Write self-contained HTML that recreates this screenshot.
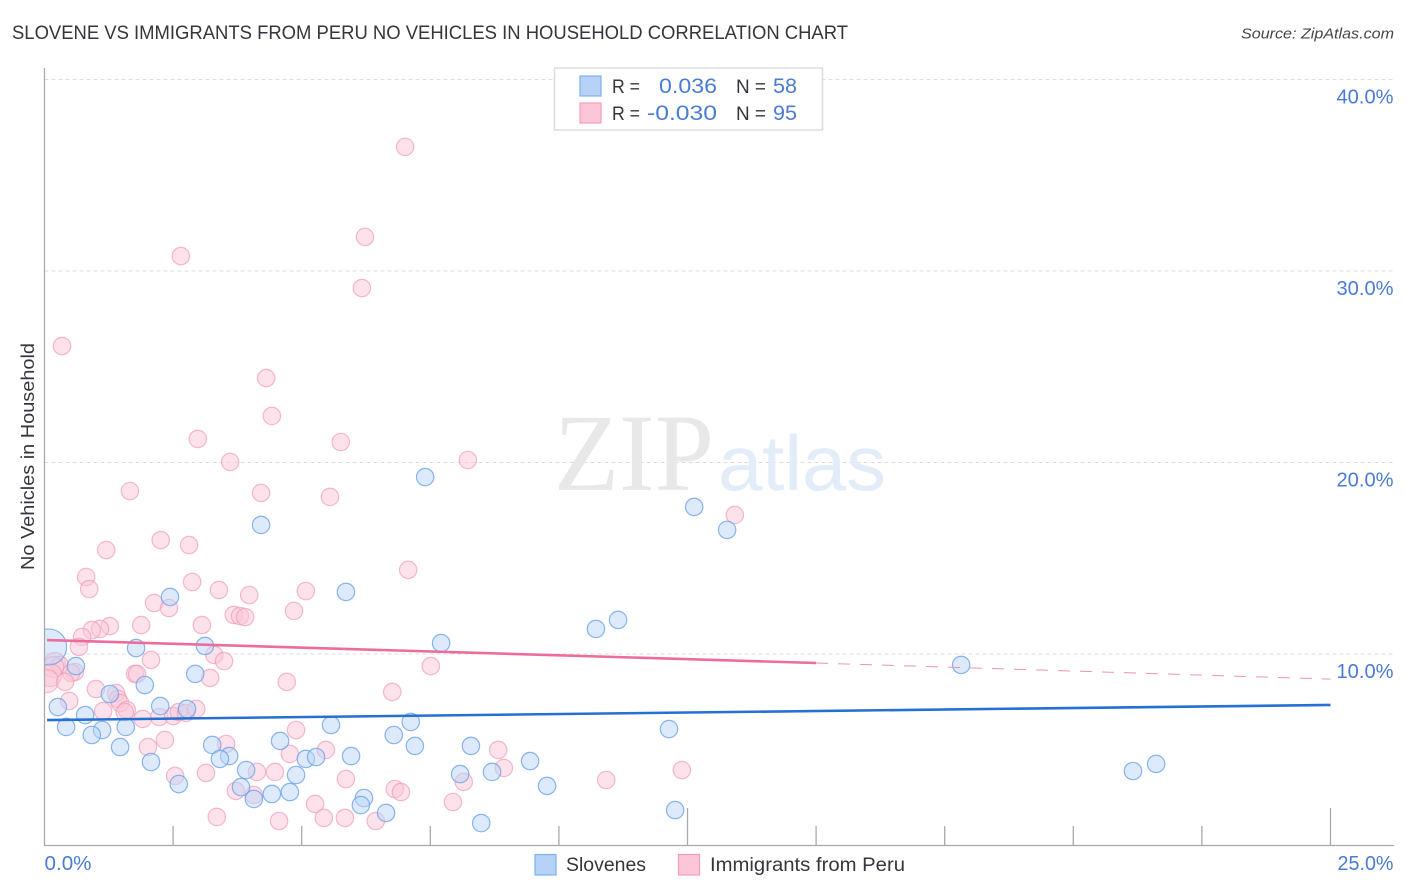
<!DOCTYPE html>
<html lang="en">
<head>
<meta charset="utf-8">
<title>Slovene vs Immigrants from Peru No Vehicles in Household Correlation Chart</title>
<style>
html,body{margin:0;padding:0;background:#fff;width:1406px;height:892px;overflow:hidden}
svg{display:block;font-family:"Liberation Sans",sans-serif}
</style>
</head>
<body>
<svg id="chart" xmlns="http://www.w3.org/2000/svg" width="1406" height="892" viewBox="0 0 1406 892">
  <defs>
    <clipPath id="plot-clip"><rect x="44.5" y="60" width="1350" height="785.5"/></clipPath>
  </defs>
  <rect x="0" y="0" width="1406" height="892" fill="#fff"/>
  <text x="12" y="39" font-size="19" fill="#35353d" textLength="836" lengthAdjust="spacingAndGlyphs">SLOVENE VS IMMIGRANTS FROM PERU NO VEHICLES IN HOUSEHOLD CORRELATION CHART</text>
  <text x="1241" y="38.5" font-size="15" font-style="italic" fill="#45454d" textLength="153" lengthAdjust="spacingAndGlyphs">Source: ZipAtlas.com</text>

  <g id="grid"></g>

  <g>
    <text x="554" y="490" font-family="'Liberation Serif',serif" font-size="110" fill="#e8e8e8" textLength="160" lengthAdjust="spacingAndGlyphs">ZIP</text>
    <text x="718" y="490" font-size="78" fill="#e3ecf9" textLength="168" lengthAdjust="spacingAndGlyphs">atlas</text>
  </g>

  <g id="points" clip-path="url(#plot-clip)"></g>
  <g id="trends"></g>
  <g id="axes"></g>

  <text transform="translate(34 570) rotate(-90)" font-size="18.5" fill="#35353d" textLength="227" lengthAdjust="spacingAndGlyphs">No Vehicles in Household</text>

  <g>
    <rect x="554.5" y="68" width="268" height="62" fill="#fff" stroke="#dddddd" stroke-width="1.5"/>
    <rect x="580" y="76" width="21" height="20" fill="#b6d2f6" stroke="#7fb0ec" stroke-width="1.2"/>
    <rect x="580" y="103" width="21" height="20" fill="#fcc6d8" stroke="#f29dba" stroke-width="1.2"/>
    <text x="612" y="93" font-size="19" fill="#35353d" textLength="28" lengthAdjust="spacingAndGlyphs">R =</text>
    <text x="659" y="93" font-size="21" fill="#4a7bd6" textLength="58" lengthAdjust="spacingAndGlyphs">0.036</text>
    <text x="736" y="93" font-size="19" fill="#35353d" textLength="30" lengthAdjust="spacingAndGlyphs">N =</text>
    <text x="773" y="93" font-size="21" fill="#4a7bd6" textLength="24" lengthAdjust="spacingAndGlyphs">58</text>
    <text x="612" y="120" font-size="19" fill="#35353d" textLength="28" lengthAdjust="spacingAndGlyphs">R =</text>
    <text x="647" y="120" font-size="21" fill="#4a7bd6" textLength="70" lengthAdjust="spacingAndGlyphs">-0.030</text>
    <text x="736" y="120" font-size="19" fill="#35353d" textLength="30" lengthAdjust="spacingAndGlyphs">N =</text>
    <text x="773" y="120" font-size="21" fill="#4a7bd6" textLength="24" lengthAdjust="spacingAndGlyphs">95</text>
  </g>

  <g>
    <rect x="535" y="854.5" width="21" height="20.5" fill="#b6d2f6" stroke="#7fb0ec" stroke-width="1.2"/>
    <text x="566" y="871" font-size="19" fill="#35353d" textLength="80" lengthAdjust="spacingAndGlyphs">Slovenes</text>
    <rect x="678.5" y="854.5" width="21" height="20.5" fill="#fcc6d8" stroke="#f29dba" stroke-width="1.2"/>
    <text x="710" y="871" font-size="19" fill="#35353d" textLength="195" lengthAdjust="spacingAndGlyphs">Immigrants from Peru</text>
  </g>
</svg>

<script>
// Percent values
const sloveneX = [0.08,7.40,12.63,13.27,4.21,5.86,2.44,11.15,10.72,7.71,3.12,1.78,17.82,2.93,1.95,1.27,0.61,0.26,2.77,2.25,0.79,0.42,1.58,1.12,0.92,1.47,5.57,7.12,6.79,12.14,4.58,3.26,7.20,8.29,3.59,3.41,2.07,5.08,5.28,5.96,9.44,3.92,4.89,8.08,8.70,21.16,21.61,2.61,3.82,4.42,4.77,9.77,4.07,6.21,6.15,6.64,12.26,8.49];
const sloveneY = [10.37,19.24,17.68,16.48,16.74,13.24,12.98,11.78,11.31,10.57,10.42,10.31,9.43,8.96,8.38,7.91,9.37,7.23,7.13,7.28,6.81,6.19,6.19,6.03,5.77,5.14,6.29,6.45,5.77,6.08,5.46,5.25,5.20,5.20,4.67,4.52,4.36,4.52,4.62,4.67,4.41,3.94,3.68,3.73,3.84,3.89,4.26,3.21,3.05,2.69,2.79,3.11,2.43,2.48,2.11,1.70,1.85,1.17];
const peruX = [7.01,6.23,2.65,6.17,0.34,4.31,4.42,2.98,5.76,3.61,8.23,1.66,4.21,5.55,13.42,2.26,2.81,1.20,7.07,0.81,0.87,2.87,3.39,5.08,3.98,2.13,2.42,4.85,3.68,3.80,3.90,1.88,3.06,1.27,1.08,0.92,0.73,0.67,3.30,3.49,2.07,7.51,0.20,0.30,0.17,0.11,0.05,0.59,0.52,0.40,1.76,1.80,3.22,4.71,1.00,1.39,6.76,0.48,1.43,1.47,1.14,1.60,1.56,1.91,2.23,2.50,2.61,2.75,2.95,4.89,3.53,5.47,4.77,2.01,2.34,8.82,8.93,12.39,2.54,3.14,4.13,4.48,5.86,10.92,8.15,3.72,4.07,6.81,6.93,5.26,7.94,3.35,4.56,5.43,5.84,6.44];
const peruY = [36.48,31.78,30.78,29.11,26.08,24.41,22.43,21.23,21.07,20.03,20.13,18.51,18.41,18.20,17.26,15.95,15.69,15.43,14.39,14.02,13.39,13.76,13.34,13.29,13.08,12.66,12.40,12.25,12.04,11.98,11.93,11.51,11.51,11.46,11.31,11.25,10.89,10.37,9.95,9.63,9.69,9.37,9.53,9.43,9.32,8.90,8.59,9.06,9.01,8.54,8.96,8.96,8.75,8.54,8.17,7.96,8.02,7.55,7.65,7.44,7.02,7.08,6.97,6.61,6.71,6.76,6.97,6.92,7.13,6.03,5.30,4.99,4.78,5.14,5.51,4.99,4.05,3.94,3.63,3.79,3.84,3.84,3.47,3.42,3.32,2.85,2.64,2.95,2.79,2.17,2.27,1.49,1.28,1.44,1.44,1.28];
const sloveneTrendX = [0.05,25];
const sloveneTrendY = [6.55,7.34];
const peruTrendSolidX = [0.05,15];
const peruTrendSolidY = [10.73,9.53];
const peruTrendDashX = [15,25];
const peruTrendDashY = [9.53,8.69];
const yTickValues = [10,20,30,40];
const yTickLabels = ['10.0%','20.0%','30.0%','40.0%'];
const xTickValues = [2.5,5,7.5,10,12.5,15,17.5,20,22.5,25];
const xMajorTicks = [12.5,25];
const xEndValues = [0,25];
const xEndLabels = ['0.0%','25.0%'];

const NS = 'http://www.w3.org/2000/svg';
function xScale(v){ return 44.5 + v * 51.44; }
function yScale(v){ return 845.5 - v * 19.15; }
function make(tag, attrs){
  const el = document.createElementNS(NS, tag);
  for (const k in attrs) el.setAttribute(k, attrs[k]);
  return el;
}
const gridG = document.getElementById('grid');
const axesG = document.getElementById('axes');
const pointsG = document.getElementById('points');
const trendsG = document.getElementById('trends');

yTickValues.forEach(function(v, i){
  const line = make('line', {x1:44.5, x2:1394, y1:yScale(v), y2:yScale(v), stroke:'#dcdcdc', 'stroke-width':1, 'stroke-dasharray':'4 3'});
  
  
  gridG.appendChild(line);
  const label = make('text', {x:1393.5, y:yScale(v) + 24, 'text-anchor':'end', 'font-size':20, fill:'#4a7bd6', textLength:57, lengthAdjust:'spacingAndGlyphs'});
  label.textContent = yTickLabels[i];
  
  
  axesG.appendChild(label);
});

const yAxis = make('line', {x1:44.5, x2:44.5, y1:68, y2:846, stroke:'#aaaaaa', 'stroke-width':1.3});


axesG.appendChild(yAxis);
const xAxis = make('line', {x1:44, x2:1394, y1:845.5, y2:845.5, stroke:'#aaaaaa', 'stroke-width':1.3});


axesG.appendChild(xAxis);

xTickValues.forEach(function(v){
  const top = xMajorTicks.indexOf(v) >= 0 ? 808 : 826;
  const tick = make('line', {x1:xScale(v), x2:xScale(v), y1:top, y2:845.5, stroke:'#aaaaaa', 'stroke-width':1.3});
  
  
  axesG.appendChild(tick);
});

xEndValues.forEach(function(v, i){
  const label = make('text', {y:870, 'font-size':20, fill:'#4a7bd6', lengthAdjust:'spacingAndGlyphs'});
  if (i === 0) {
    label.setAttribute('x', xScale(v));
    label.setAttribute('textLength', 47);
  } else {
    label.setAttribute('x', xScale(v) + 63);
    label.setAttribute('text-anchor', 'end');
    label.setAttribute('textLength', 56);
  }
  label.textContent = xEndLabels[i];
  
  
  axesG.appendChild(label);
});

function drawPoint(x, y, r, fill, stroke, strokeOpacity, name){
  const c = make('circle', {cx:xScale(x), cy:yScale(y), r:r, fill:fill, 'fill-opacity':0.5, stroke:stroke, 'stroke-opacity':strokeOpacity, 'stroke-width':1.2});
  
  
  pointsG.appendChild(c);
}
// Points hugging the y axis aggregate more records and are drawn larger
function peruRadius(x){ return x <= 0.12 ? 11.5 : x <= 0.22 ? 10.5 : 8.7; }
peruX.forEach(function(x, i){
  drawPoint(x, peruY[i], peruRadius(x), '#fbc6d7', '#ee9cb9', 0.7, 'peru-point');
});
sloveneX.forEach(function(x, i){
  drawPoint(x, sloveneY[i], x < 0.1 ? 18 : 8.7, '#bcd6f7', '#6ba2e8', 0.8, 'slovene-point');
});

function drawTrend(xs, ys, color, width, dash, name){
  const l = make('line', {x1:xScale(xs[0]), x2:xScale(xs[1]), y1:yScale(ys[0]), y2:yScale(ys[1]), stroke:color, 'stroke-width':width});
  if (dash) l.setAttribute('stroke-dasharray', dash);
  
  
  trendsG.appendChild(l);
}
drawTrend(peruTrendDashX, peruTrendDashY, '#ee93b3', 1, '12 10', 'peru-trend-line-extrapolated');
drawTrend(peruTrendSolidX, peruTrendSolidY, '#ec6d9b', 2.6, null, 'peru-trend-line');
drawTrend(sloveneTrendX, sloveneTrendY, '#2470d3', 2.6, null, 'slovene-trend-line');
</script>
</body>
</html>
